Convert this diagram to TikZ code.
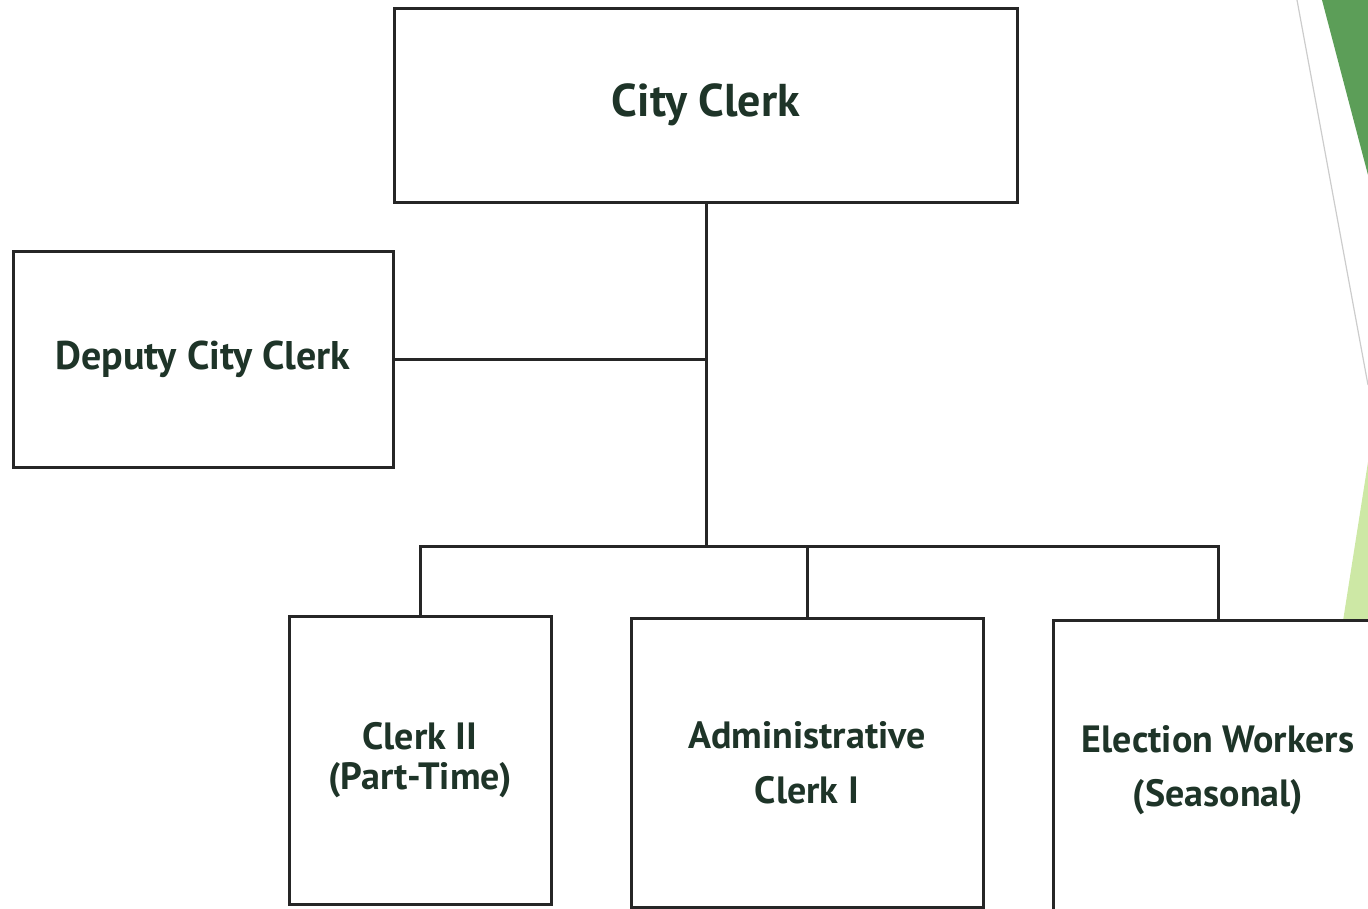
\documentclass[tikz,border=0pt]{standalone}
\usepackage{fontspec}
\setmainfont{PT Sans}
\usepackage{xcolor}
\usetikzlibrary{positioning}
\definecolor{labelgreen}{RGB}{30,52,40}
\definecolor{darkleaf}{RGB}{92,158,88}
\definecolor{paleleaf}{RGB}{205,232,165}
\begin{document}
\begin{tikzpicture}[x=1pt,y=-1pt,line width=3pt,draw=black!85]
		\tikzstyle{box}=[draw=black!85,line width=3pt,fill=white,align=center,text=labelgreen,inner sep=0pt]
		\useasboundingbox (0,0) rectangle (1368,908);
		\clip (0,0) rectangle (1368,908);
		% slide decoration on the right
		\fill[darkleaf] (1322,0) -- (1368,0) -- (1368,175) -- cycle;
		\fill[paleleaf] (1368,462) -- (1340,640) -- (1368,640) -- cycle;
		\draw[black!20,line width=1.2pt] (1297,0) -- (1368,385);
		% boxes
		\node[box]    (cc) at (706,105)    [minimum width=623pt,minimum height=194pt,font=\fontsize{46}{50}\selectfont\bfseries]  {City Clerk};
		\node[box]    (dep) at (203,359)   [minimum width=380pt,minimum height=216pt,font=\fontsize{40}{44}\selectfont\bfseries] {Deputy City Clerk};
		\node[box]    (c2) at (420,760)    [minimum width=262pt,minimum height=288pt,font=\fontsize{38}{40}\selectfont\bfseries] {Clerk II\\(Part-Time)};
		\node[box]    (ad) at (807,762.5)  [minimum width=352pt,minimum height=289pt,font=\fontsize{38}{55}\selectfont\bfseries] {Administrative\\Clerk I};
		\node[box]    (ew) at (1218,770)   [minimum width=330pt,minimum height=300pt,font=\fontsize{38}{54}\selectfont\bfseries] {Election Workers\\(Seasonal)};
		\coordinate (bus) at (cc.south |- 0,546);
		% connectors
		\draw (cc.south) -- (bus);
		\draw (dep.east) -- (dep.east -| bus);
		\draw (c2.north) |- (bus) -| (ew.north);
		\draw (ad.north) -- (ad.north |- bus);
	\end{tikzpicture}
\end{document}
